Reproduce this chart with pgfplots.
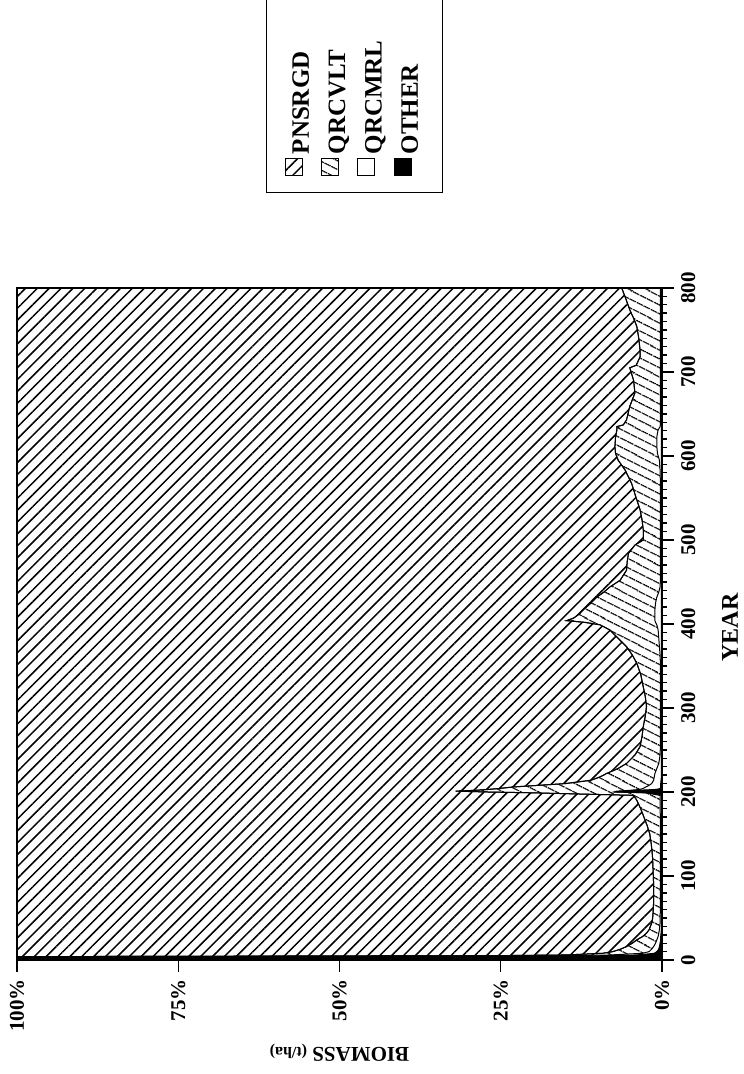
\documentclass[border=0pt]{standalone}
\usepackage{fontspec}
\setmainfont{Liberation Serif}
\usepackage{pgfplots}
\pgfplotsset{compat=1.18}
\usepackage{pgfplotstable}
\usetikzlibrary{patterns.meta}

% Cumulative biomass shares (%) measured from the 0% baseline:
% other = OTHER, mrl = OTHER+QRCMRL, vlt = OTHER+QRCMRL+QRCVLT (PNSRGD fills the rest)
\pgfplotstableread{
year other mrl vlt
0   100  100  100
4   100  100  100
5   10   16   28
6   4    8    15
7   2.5  5.5  12
8   1.2  3    9.2
10  0.8  2    7.6
13  0.5  1.6  6.4
16  0.4  1.3  5.5
20  0.3  1.0  4.6
24  0.2  0.8  3.9
28  0.2  0.6  3.0
32  0.15 0.5  2.4
36  0.1  0.4  2.0
40  0.1  0.35 1.8
44  0.1  0.3  1.6
50  0.1  0.3  1.45
60  0.1  0.25 1.35
70  0.1  0.25 1.3
80  0.1  0.25 1.3
90  0.1  0.25 1.3
100 0.1  0.25 1.35
110 0.1  0.25 1.4
120 0.1  0.25 1.45
130 0.1  0.25 1.55
140 0.1  0.25 1.7
150 0.1  0.25 1.9
160 0.1  0.25 2.3
170 0.1  0.25 2.8
180 0.1  0.3  3.3
190 0.1  0.3  3.9
196 0.1  0.3  4.4
199 2    2.5  20
200 7    7.5  27
201 6.5  7    32
202 4    5    29
203 1    3.5  27
204 0.3  3    25.5
206 0.2  2.5  23
208 0.2  2.0  19
210 0.2  1.6  15
214 0.15 1.3  11
218 0.1  1.2  9.6
222 0.1  1.1  8.6
228 0.1  0.8  6.8
234 0.1  0.5  5.5
244 0.1  0.3  4.2
254 0.1  0.25 3.4
266 0.1  0.25 3.1
278 0.1  0.25 2.9
290 0.1  0.25 2.6
302 0.1  0.25 2.4
314 0.1  0.25 2.6
325 0.1  0.25 2.9
340 0.1  0.25 3.3
353 0.1  0.25 3.9
363 0.1  0.3  4.6
373 0.1  0.4  5.5
383 0.1  0.5  6.8
393 0.1  0.6  8.1
399 0.1  0.8  9.6
402 0.1  1.0  12
404 0.1  1.1  14.8
407 0.1  1.1  13.7
412 0.1  1.1  12.8
417 0.1  1.1  12.2
425 0.1  1.0  11.0
432 0.1  0.8  10.1
438 0.1  0.5  9.0
444 0.1  0.3  8.1
452 0.1  0.25 6.5
464 0.1  0.25 5.5
474 0.1  0.25 5.4
484 0.1  0.25 5.2
490 0.1  0.25 4.6
494 0.1  0.25 4.2
500 0.1  0.25 2.9
512 0.1  0.25 2.9
524 0.1  0.25 3.1
536 0.1  0.25 3.4
550 0.1  0.25 4.0
567 0.1  0.25 4.7
583 0.1  0.3  5.7
595 0.1  0.4  6.8
603 0.1  0.7  7.2
611 0.1  0.8  7.3
623 0.1  0.8  7.2
631 0.1  0.6  7.0
635 0.1  0.3  7.0
637 0.1  0.25 6.0
643 0.1  0.25 5.5
659 0.1  0.25 5.0
675 0.1  0.25 4.2
690 0.1  0.25 4.4
705 0.1  0.25 5.0
708 0.1  0.25 4.0
718 0.1  0.25 3.4
726 0.1  0.25 3.4
740 0.1  0.25 3.6
754 0.1  0.25 3.9
764 0.1  0.25 4.4
774 0.1  0.25 5.0
787 0.1  0.25 5.6
800 0.1  0.25 6.25
}\shares

% hatch directions are given in page orientation (patterns do not follow the picture rotation)
\tikzset{
  pnsfill/.style={fill=white, postaction={pattern={Lines[angle=45,distance=4.2pt,line width=0.75pt]}}},
  vltfill/.style={fill=white, postaction={pattern={Lines[angle=-27,distance=4pt,line width=0.75pt]}}},
}

\begin{document}
\begin{tikzpicture}[rotate=90, transform shape]
\begin{axis}[
  scale only axis, width=336pt, height=322.5pt,
  xmin=0, xmax=800, ymin=0, ymax=100,
  axis on top,
  xtick={0,100,...,800}, minor x tick num=9,
  ytick={0,25,50,75,100}, yticklabels={0\%,25\%,50\%,75\%,100\%},
  tick align=outside, xtick pos=bottom, ytick pos=left,
  major tick length=6pt, minor tick length=2.5pt,
  every tick/.style={black, line width=0.7pt},
  axis line style={line width=0.9pt},
  ticklabel style={font=\bfseries\fontsize{10.5}{12}\selectfont},
  /pgf/number format/assume math mode=true,
  xlabel={YEAR}, ylabel={BIOMASS {\fontsize{8}{9}\selectfont (t/ha)}},
  every axis x label/.style={at={(axis description cs:0.495,-0.1054)}, anchor=center, font=\bfseries\fontsize{12}{14}\selectfont},
  every axis y label/.style={at={(axis description cs:-0.138,0.5)}, rotate=90, anchor=center, font=\bfseries\fontsize{10.5}{12}\selectfont},
  legend style={at={(axis description cs:1.1414,0.614)}, anchor=north west,
    draw=black, line width=0.7pt, inner xsep=8pt, inner ysep=9pt, row sep=2.5pt,
    font=\bfseries\fontsize{12.5}{14}\selectfont, cells={anchor=west}},
  legend image code/.code={\draw[#1, draw=black, line width=0.5pt] (0pt,0pt) rectangle (8.5pt,8.5pt);},
]
\addplot[pnsfill, draw=none] coordinates {(0,100) (800,100)} \closedcycle;
\addlegendentry{\makebox[80pt][l]{PNSRGD}}
\addplot[vltfill, draw=black, line width=0.5pt] table[x=year, y=vlt] {\shares} \closedcycle;
\addlegendentry{\makebox[80pt][l]{QRCVLT}}
\addplot[fill=white, draw=black, line width=0.5pt] table[x=year, y=mrl] {\shares} \closedcycle;
\addlegendentry{\makebox[80pt][l]{QRCMRL}}
\addplot[fill=black, draw=black, line width=0.5pt] table[x=year, y=other] {\shares} \closedcycle;
\addlegendentry{\makebox[80pt][l]{OTHER}}
\end{axis}
\pgfresetboundingbox
\path[use as bounding box] (-57pt,-40.5pt) rectangle (480pt,331pt);
\end{tikzpicture}
\end{document}
